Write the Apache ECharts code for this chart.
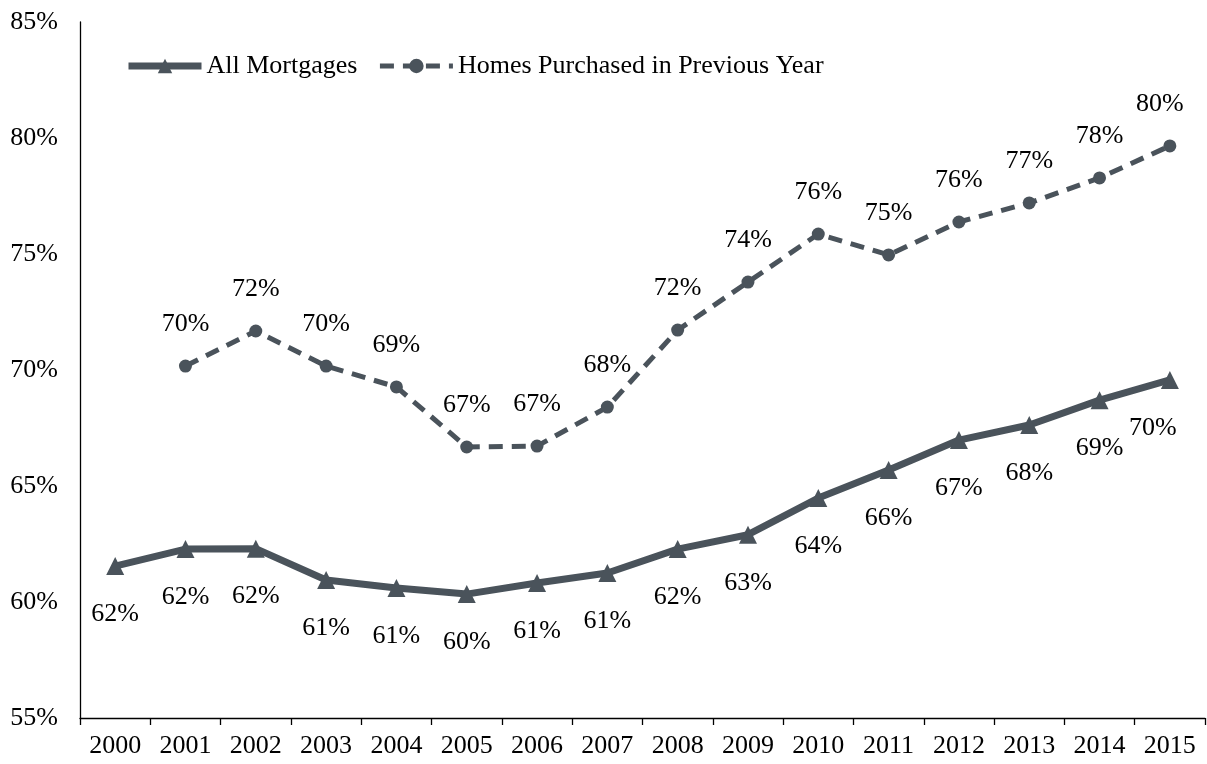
<!DOCTYPE html>
<html>
<head>
<meta charset="utf-8">
<script src="https://cdn.jsdelivr.net/npm/echarts@6/dist/echarts.min.js"></script>
<style>
html, body { margin: 0; padding: 0; background: #fff; }
#chart { width: 1207px; height: 764px; }
</style>
</head>
<body>
<div id="chart"></div>
<script>
var years = ['2000', '2001', '2002', '2003', '2004', '2005', '2006', '2007', '2008', '2009', '2010', '2011', '2012', '2013', '2014', '2015'];
var allMortgages = [61.55, 62.28, 62.3, 60.95, 60.6, 60.34, 60.82, 61.25, 62.28, 62.9, 64.48, 65.69, 66.98, 67.63, 68.7, 69.57];
var homesPurchased = [null, 70.17, 71.68, 70.17, 69.27, 66.68, 66.72, 68.4, 71.72, 73.79, 75.86, 74.96, 76.38, 77.2, 78.28, 79.66];

var color = '#4a535b';
var font = '"Liberation Serif", "DejaVu Serif", serif';

// last point labels are nudged left so they stay inside the page
function withLastOffset(values, dx) {
	return values.map(function(v, i) {
		if(i == values.length - 1) {
			return { value: v, label: { offset: [dx, 0] } };
		}
		return v;
	});
}

var chart = echarts.init(document.getElementById('chart'));

var option = {
	animation: false,
	textStyle: { fontFamily: font },
	grid: {
		left: 80,
		right: 2,
		top: 22,
		bottom: 46
	},
	legend: {
		left: 120,
		top: 48,
		itemWidth: 73,
		itemHeight: 18,
		itemGap: 20,
		textStyle: { fontFamily: font, fontSize: 26, color: '#000' },
		data: [{
			name: 'All Mortgages',
			lineStyle: { width: 7 }
		}, {
			name: 'Homes Purchased in Previous Year',
			lineStyle: { width: 5 }
		}]
	},
	xAxis: {
		type: 'category',
		data: years,
		boundaryGap: true,
		axisLine: { lineStyle: { color: '#000', width: 1.3 } },
		axisTick: { show: true, length: 7, lineStyle: { color: '#000', width: 1.3 } },
		axisLabel: { color: '#000', fontSize: 26, fontFamily: font, margin: 15 }
	},
	yAxis: {
		type: 'value',
		min: 55,
		max: 85,
		interval: 5,
		axisLine: { show: true, lineStyle: { color: '#000', width: 1.3 } },
		axisTick: { show: false },
		splitLine: { show: false },
		axisLabel: {
			color: '#000',
			fontSize: 26,
			fontFamily: font,
			margin: 22,
			formatter: function(v) { return v + '%'; }
		}
	},
	series: [{
		name: 'All Mortgages',
		type: 'line',
		data: withLastOffset(allMortgages, -17),
		symbol: 'triangle',
		symbolSize: 18,
		lineStyle: { color: color, width: 7 },
		itemStyle: { color: color },
		label: {
			show: true,
			position: 'bottom',
			distance: 26,
			color: '#000',
			fontSize: 26,
			fontFamily: font,
			formatter: function(p) { return Math.round(p.value) + '%'; }
		}
	}, {
		name: 'Homes Purchased in Previous Year',
		type: 'line',
		data: withLastOffset(homesPurchased, -10),
		symbol: 'circle',
		symbolSize: 13,
		lineStyle: { color: color, width: 5, type: [14, 9] },
		itemStyle: { color: color },
		label: {
			show: true,
			position: 'top',
			distance: 22,
			color: '#000',
			fontSize: 26,
			fontFamily: font,
			formatter: function(p) { return Math.round(p.value) + '%'; }
		}
	}]
};

chart.setOption(option);
</script>
</body>
</html>
